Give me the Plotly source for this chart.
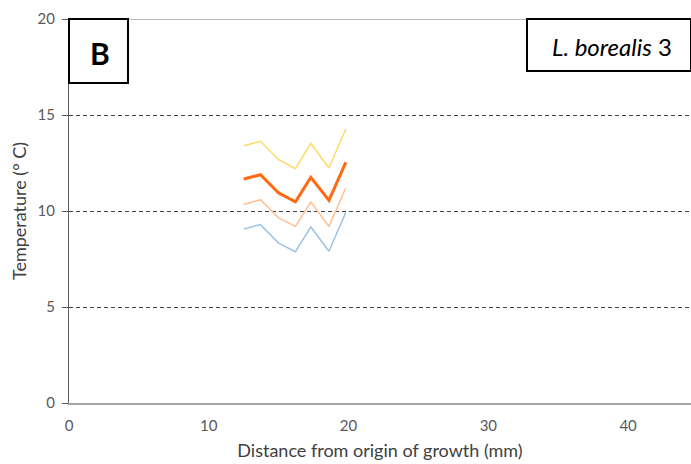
import plotly.graph_objects as go

distance = [12.5, 13.7, 15.0, 16.2, 17.3, 18.6, 19.8]
upper = [13.40, 13.63, 12.67, 12.20, 13.52, 12.24, 14.27]
mean = [11.67, 11.89, 10.94, 10.48, 11.75, 10.55, 12.53]
lower = [10.34, 10.59, 9.64, 9.20, 10.47, 9.20, 11.20]
minimum = [9.06, 9.29, 8.33, 7.88, 9.17, 7.90, 9.93]

x_ticks = [0, 10, 20, 30, 40]
y_ticks = [0, 5, 10, 15, 20]

FONT = "Lato"

fig = go.Figure()
series = [
    (minimum, "#9DC3E6", 1.5),
    (lower, "#FFBF8F", 1.5),
    (upper, "#FFD966", 1.5),
    (mean, "#FF6A13", 3),
]
for ys, col, w in series:
    fig.add_trace(go.Scatter(x=distance, y=ys, mode="lines",
                             line=dict(color=col, width=w), showlegend=False,
                             hoverinfo="skip"))

fig.update_layout(
    width=691, height=464,
    margin=dict(l=69, r=0, t=19, b=61),
    paper_bgcolor="white", plot_bgcolor="white",
    font=dict(family=FONT, color="#404040"),
    xaxis=dict(range=[0, 44.5], tickvals=x_ticks, showgrid=False,
               zeroline=False, showline=True, linecolor="#A6A6A6", linewidth=1.5,
               ticks="", ticklabelstandoff=8, tickfont=dict(size=15, color="#595959"),
               title=dict(text="Distance from origin of growth (mm)",
                          font=dict(size=18, color="#404040"), standoff=12)),
    yaxis=dict(range=[0, 20], tickvals=y_ticks, showgrid=True,
               gridcolor="#404040", griddash="4px,3px", gridwidth=1,
               zeroline=False, showline=True, linecolor="#595959", linewidth=1,
               ticks="outside", ticklen=6, tickcolor="#595959",
               ticklabelstandoff=4,
               tickfont=dict(size=15, color="#595959"),
               title=dict(text="Temperature (° C)",
                          font=dict(size=18, color="#404040"), standoff=6)),
)

# top border line at y=20
fig.add_shape(type="line", xref="paper", yref="y", x0=0, x1=1, y0=20, y1=20,
              line=dict(color="#A6A6A6", width=1.5))

# Panel label box
fig.add_shape(type="rect", xref="paper", yref="paper",
              x0=0, x1=(128 - 69) / 622, y0=1 - 64 / 384, y1=1,
              line=dict(color="black", width=2), fillcolor="white")
fig.add_annotation(xref="paper", yref="paper", x=(100 - 69) / 622, y=1 - 34 / 384,
                   xanchor="center", yanchor="middle",
                   text="<b>B</b>", showarrow=False,
                   font=dict(family=FONT, size=30, color="black"))

# Species box
fig.add_shape(type="rect", xref="paper", yref="paper",
              x0=(527 - 69) / 622, x1=1, y0=1 - 52 / 384, y1=1,
              line=dict(color="black", width=2), fillcolor="white")
fig.add_annotation(xref="paper", yref="paper", x=(612 - 69) / 622, y=1 - 28 / 384,
                   xanchor="center", yanchor="middle",
                   text="<i>L. borealis</i> 3", showarrow=False,
                   font=dict(family=FONT, size=24, color="black"))

fig.write_html("out.html", config={"displayModeBar": False},
               post_script="document.body.style.margin='0';document.documentElement.style.margin='0';")
